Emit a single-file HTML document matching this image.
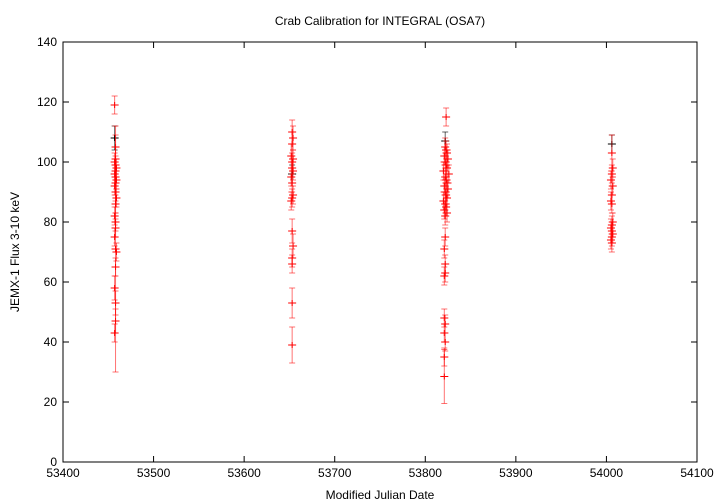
<!DOCTYPE html>
<html><head><meta charset="utf-8"><style>
body{margin:0;background:#fff}
svg{display:block;font-family:"Liberation Sans",sans-serif}
</style></head><body>
<svg id="chart" width="720" height="504" viewBox="0 0 720 504">
<text x="380" y="25" font-size="12" text-anchor="middle">Crab Calibration for INTEGRAL (OSA7)</text>
<text x="380" y="499" font-size="12" text-anchor="middle">Modified Julian Date</text>
<text transform="translate(19,252) rotate(-90)" font-size="12" text-anchor="middle">JEMX-1 Flux 3-10 keV</text>
<rect x="63" y="42" width="634" height="420" fill="none" stroke="#000" stroke-width="1"/>
<g id="axes"></g><g id="marks"></g>
</svg>
<script>
const xTicks=[53400,53500,53600,53700,53800,53900,54000,54100];
const yTicks=[0,20,40,60,80,100,120,140];
const mjd=[53457,53458,53458,53457,53458,53459,53458,53457,53458,53459,53458,53457,53458,53459,53458,53457,53458,53458,53457,53458,53459,53458,53457,53458,53458,53457,
53653,53654,53653,53652,53654,53653,53653,53654,53652,53653,53654,53653,53652,53653,53654,53653,53653,53653,53653,
53822,53823,53824,53821,53825,53822,53823,53824,53820,53826,53822,53823,53824,53821,53825,53822,53823,53824,53820,53822,53823,53821,53824,53822,53823,53822,53821,53822,53822,53821,53821,53822,53821,53822,53821,53821,
54006,54007,54006,54005,54007,54006,54005,54006,54007,54006,54005,54006,54007,54006,54005,54006];
const flux=[119,105,101,100,99,98,97,96,95,94,93,92,90,88,86,82,80,78,75,71,70,65,58,53,47,43,
110,108,106,102,101,100,98,97,95,93,89,88,87,77,72,68,66,53,39,
105,104,103,102,101,100,99,98,97,96,95,94,93,92,91,90,89,88,87,86,85,84,83,82,115,75,71,66,63,62,48,46,43,40,35,28.5,
103,98,96,94,92,89,87,86,80,79,78,77,76,75,74,73];
const err=[3,4,4,3,3,3,3,3,3,3,3,3,3,3,3,3,3,3,3,41,3,3,4,4,4,3,
4,4,4,4,3,3,3,3,3,3,3,3,3,4,4,3,3,5,6,
3,3,3,3,3,3,3,3,3,3,3,3,3,3,3,3,3,3,3,3,3,3,3,3,3,3,3,3,3,3,3,3,3,3,3,9,
6,3,3,3,3,3,3,3,3,3,3,3,3,3,3,3];
const blackMjd=[53457,54006,53822,53653];
const blackFlux=[108,106,107,96];
const blackErr=[4,3,3,3];
const X0=63,X1=697,Y0=462,Y1=42;
const sx=v=>X0+(v-53400)/(54100-53400)*(X1-X0);
const sy=v=>Y0-(v-0)/(140-0)*(Y0-Y1);
const NS="http://www.w3.org/2000/svg";
function mk(tag,attrs,parent){const e=document.createElementNS(NS,tag);for(const k in attrs)e.setAttribute(k,attrs[k]);parent.appendChild(e);return e;}
const axes=document.getElementById('axes'),marks=document.getElementById('marks');
xTicks.forEach(t=>{const x=sx(t);
 const g=mk('g',{},axes);
 
 
 mk('line',{x1:x,x2:x,y1:Y0,y2:Y0-6,stroke:'#000'},g);
 mk('line',{x1:x,x2:x,y1:Y1,y2:Y1+6,stroke:'#000'},g);
 const tx=mk('text',{x:x,y:Y0+15,'font-size':12,'text-anchor':'middle'},g);tx.textContent=t;});
yTicks.forEach(t=>{const y=sy(t);
 const g=mk('g',{},axes);
 
 
 mk('line',{x1:X0,x2:X0+6,y1:y,y2:y,stroke:'#000'},g);
 mk('line',{x1:X1,x2:X1-6,y1:y,y2:y,stroke:'#000'},g);
 const tx=mk('text',{x:X0-6,y:y+4,'font-size':12,'text-anchor':'end'},g);tx.textContent=t;});
function pt(m,f,e,col,op){const x=sx(m),y=sy(f),y1=sy(f+e),y2=sy(f-e);
 const g=mk('g',{stroke:col,'stroke-width':1},marks);
 
 
 mk('line',{x1:x,x2:x,y1:y1,y2:y2,'stroke-opacity':op},g);
 mk('line',{x1:x-3,x2:x+3,y1:y1,y2:y1,'stroke-opacity':op},g);
 mk('line',{x1:x-3,x2:x+3,y1:y2,y2:y2,'stroke-opacity':op},g);
 mk('line',{x1:x-4,x2:x+4,y1:y,y2:y},g);
 mk('line',{x1:x,x2:x,y1:y-3,y2:y+3},g);}
for(let i=0;i<blackMjd.length;i++)pt(blackMjd[i],blackFlux[i],blackErr[i],'#000',0.6);
for(let i=0;i<mjd.length;i++)pt(mjd[i],flux[i],err[i],'#f00',0.55);
</script>
</body></html>
